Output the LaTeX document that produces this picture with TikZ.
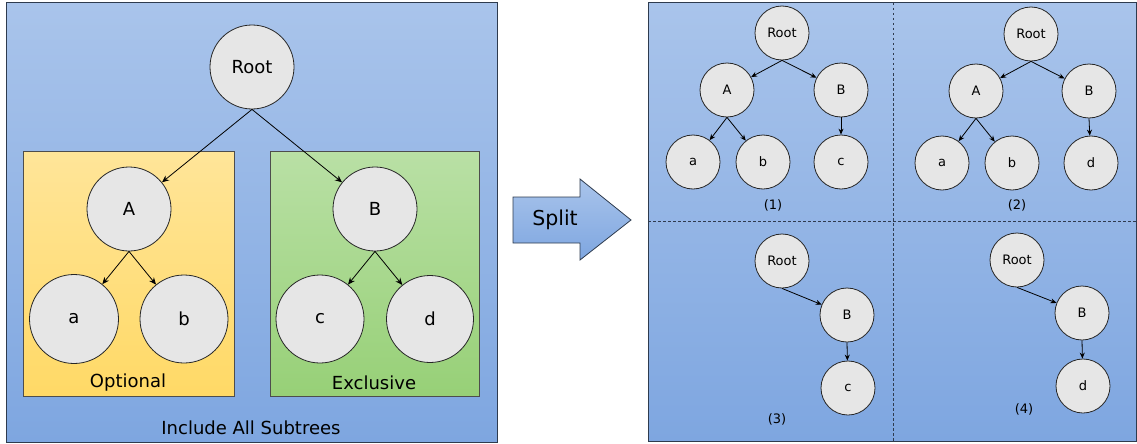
\documentclass[tikz,border=0pt]{standalone}
\usepackage{fontspec}
\setmainfont{DejaVu Sans}
\usetikzlibrary{arrows.meta}
\definecolor{bluetop}{HTML}{A9C4EB}
\definecolor{bluebot}{HTML}{7EA6E0}
\definecolor{yeltop}{HTML}{FFE599}
\definecolor{yelbot}{HTML}{FFD966}
\definecolor{grntop}{HTML}{B9E0A5}
\definecolor{grnbot}{HTML}{97D077}
\definecolor{nodefill}{HTML}{E6E6E6}
\definecolor{panelline}{HTML}{2E3B4E}
\definecolor{boxline}{HTML}{4D4D4D}
\tikzset{
  panel/.style={draw=panelline, line width=1pt, top color=bluetop, bottom color=bluebot},
  optbox/.style={draw=boxline, line width=1pt, top color=yeltop, bottom color=yelbot},
  exbox/.style={draw=boxline, line width=1pt, top color=grntop, bottom color=grnbot},
  bignode/.style={circle, draw=black!85, line width=0.8pt, fill=nodefill, inner sep=0pt, font=\fontsize{18}{20}\selectfont},
  smallnode/.style={circle, draw=black!85, line width=0.8pt, fill=nodefill, inner sep=0pt, minimum size=54pt, font=\fontsize{13}{15}\selectfont},
  lbl/.style={inner sep=0pt, font=\fontsize{18}{20}\selectfont},
  slbl/.style={inner sep=0pt, font=\fontsize{13}{15}\selectfont},
  edge/.style={line width=0.8pt, -{Stealth[length=7pt,width=6pt]}},
  sedge/.style={line width=0.8pt, -{Stealth[length=6pt,width=5pt]}},
  divider/.style={draw=panelline, line width=1pt, dash pattern=on 2.5pt off 2.5pt}
}
\begin{document}
\begin{tikzpicture}[x=1pt,y=-1pt]
\useasboundingbox (0,0) rectangle (1137,444);
% left panel
\draw[panel] (6,3) rectangle (497,442);
\draw[optbox] (23,151) rectangle (234,396);
\draw[exbox] (270,151) rectangle (479,396);
\node[bignode, minimum size=84pt] (root) at (252,67) {Root};
\node[bignode, minimum size=84pt] (A) at (129,209) {A};
\node[bignode, minimum size=84pt] (B) at (375,209) {B};
\node[bignode, minimum size=89pt] (a) at (74,319) {a};
\node[bignode, minimum size=88pt] (b) at (184,319) {b};
\node[bignode, minimum size=88pt] (c) at (320,319) {c};
\node[bignode, minimum size=87pt] (d) at (430,319) {d};
\node[lbl] (optl) at (128,383) {Optional};
\node[lbl] (exl) at (374,383) {Exclusive};
\node[lbl] (incl) at (251,428) {Include All Subtrees};
\draw[edge] (root.south) -- (A);
\draw[edge] (root.south) -- (B);
\draw[edge] (A.south) -- (a);
\draw[edge] (A.south) -- (b);
\draw[edge] (B.south) -- (c);
\draw[edge] (B.south) -- (d);
% split arrow
\draw[draw=panelline, line width=0.8pt, top color=bluetop, bottom color=bluebot]
  (513,197) -- (580,197) -- (580,179) -- (631,220) -- (580,260) -- (580,243) -- (513,243) -- cycle;
\node[inner sep=0pt, font=\fontsize{20.5}{22}\selectfont] (split) at (555,220) {Split};
% right panel
\draw[panel] (648,3) rectangle (1136,441);
\coordinate (vt) at (893,3);
\coordinate (vb) at (893,441);
\coordinate (hl) at (648,221);
\coordinate (hr) at (1136,221);
\draw[divider] (vt) -- (vb);
\draw[divider] (hl) -- (hr);
% quadrant 1
\node[smallnode] (r1) at (782,33) {Root};
\node[smallnode] (A1) at (727,90) {A};
\node[smallnode] (B1) at (841,90) {B};
\node[smallnode] (a1) at (693,162) {a};
\node[smallnode] (b1) at (763,162) {b};
\node[smallnode] (c1) at (841,162) {c};
\node[slbl] (l1) at (773,205) {(1)};
\draw[sedge] (r1.south) -- (A1);
\draw[sedge] (r1.south) -- (B1);
\draw[sedge] (A1.south) -- (a1);
\draw[sedge] (A1.south) -- (b1);
\draw[sedge] (B1.south) -- (c1);
% quadrant 2
\node[smallnode] (r2) at (1031,34) {Root};
\node[smallnode] (A2) at (976,91) {A};
\node[smallnode] (B2) at (1089,91) {B};
\node[smallnode] (a2) at (942,163) {a};
\node[smallnode] (b2) at (1012,163) {b};
\node[smallnode] (d2) at (1091,163) {d};
\node[slbl] (l2) at (1017,205) {(2)};
\draw[sedge] (r2.south) -- (A2);
\draw[sedge] (r2.south) -- (B2);
\draw[sedge] (A2.south) -- (a2);
\draw[sedge] (A2.south) -- (b2);
\draw[sedge] (B2.south) -- (d2);
% quadrant 3
\node[smallnode] (r3) at (782,261) {Root};
\node[smallnode] (B3) at (847,315) {B};
\node[smallnode] (c3) at (848,388) {c};
\node[slbl] (l3) at (777,419) {(3)};
\draw[sedge] (r3.south) -- (B3);
\draw[sedge] (B3.south) -- (c3);
% quadrant 4
\node[smallnode] (r4) at (1017,260) {Root};
\node[smallnode] (B4) at (1082,313) {B};
\node[smallnode] (d4) at (1083,386) {d};
\node[slbl] (l4) at (1024,409) {(4)};
\draw[sedge] (r4.south) -- (B4);
\draw[sedge] (B4.south) -- (d4);
\end{tikzpicture}
\end{document}
